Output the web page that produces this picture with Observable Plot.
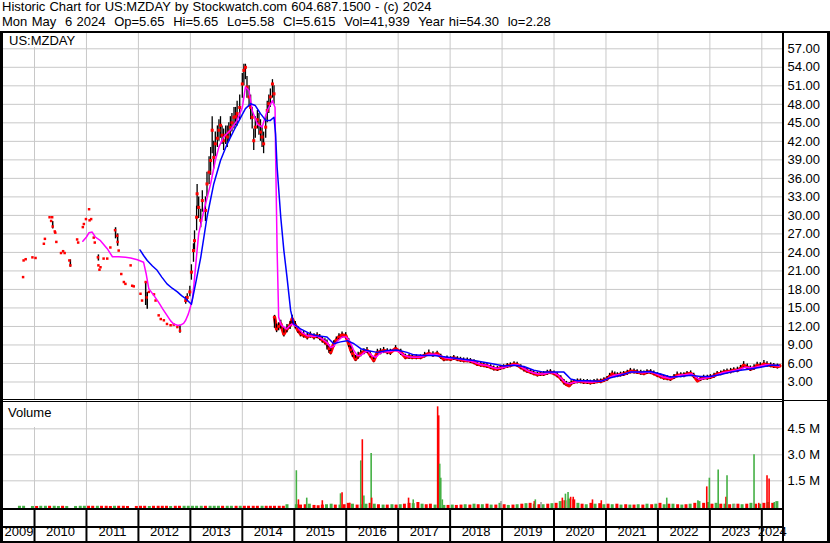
<!DOCTYPE html>
<html><head><meta charset="utf-8">
<script src="https://cdn.jsdelivr.net/npm/d3@7"></script>
<script src="https://cdn.jsdelivr.net/npm/@observablehq/plot@0.6"></script>
<style>
body{margin:0;background:#fff;}
#wrap{position:relative;width:830px;height:543px;overflow:hidden;font-family:Arial,"Liberation Sans",sans-serif;color:#000;background:#fff;}
.t{position:absolute;left:2px;font-size:13px;white-space:pre;line-height:15px;}
.blk{position:absolute;background:#000;}
.lbl{position:absolute;background:#fff;font-size:13px;line-height:15px;box-sizing:border-box;white-space:pre;}
svg{position:absolute;left:0;}
</style></head><body>
<div id="wrap">
<div class="t" style="top:-1px;word-spacing:0.5px">Historic Chart for US:MZDAY by Stockwatch.com 604.687.1500 - (c) 2024</div>
<div class="t" style="top:14px;word-spacing:0.75px">Mon May  6 2024  Op=5.65  Hi=5.65  Lo=5.58  Cl=5.615  Vol=41,939  Year hi=54.30  lo=2.28</div>
</div>
<script>
// ---------- data (decimal years) ----------
const yearBounds = [2010,2011,2012,2013,2014,2015,2016,2017,2018,2019,2020,2021,2022,2023,2024];
const yearNames = ["2009","2010","2011","2012","2013","2014","2015","2016","2017","2018","2019","2020","2021","2022","2023","2024"];
const priceTicks = [3,6,9,12,15,18,21,24,27,30,33,36,39,42,45,48,51,54,57];
const volTicks = [1.5,3.0,4.5];

// sparse early trades [t, close]
const earlyDots = [[2009.78,20.0],[2009.79,22.7],[2009.83,22.9],[2009.96,23.2],[2010.02,23.1],[2010.18,25.4],[2010.20,26.2],[2010.29,29.7],[2010.32,29.1],[2010.34,29.7],[2010.35,28.2],[2010.39,27.4],[2010.40,27.2],[2010.42,25.7],[2010.51,23.9],[2010.55,24.2],[2010.58,23.9],[2010.67,22.7],[2010.69,21.9],[2010.82,26.1],[2010.84,25.6],[2010.93,28.1],[2010.95,28.6],[2010.99,29.4],[2011.05,31.0],[2011.06,29.2],[2011.09,29.4],[2011.14,26.4],[2011.16,25.6],[2011.22,23.2],[2011.23,21.9],[2011.25,21.2],[2011.27,21.6],[2011.33,23.0],[2011.40,23.0],[2011.46,24.8],[2011.55,27.6],[2011.59,26.7],[2011.60,25.7],[2011.62,24.3],[2011.67,20.5],[2011.72,19.2],[2011.75,18.9],[2011.85,21.9],[2011.88,18.6],[2011.91,18.5],[2012.04,17.3],[2012.07,16.2],[2012.14,19.2],[2012.16,16.7],[2012.20,17.6],[2012.30,17.2],[2012.33,16.2],[2012.39,13.8],[2012.43,13.2],[2012.49,13.0],[2012.55,12.4],[2012.62,12.2],[2012.68,12.3],[2012.75,11.9],[2012.80,11.3]];
// early day ranges [t, lo, hi]
const earlyBars = [[2010.35,27.8,29.0],[2010.69,21.6,22.8],[2011.23,22.6,23.6],[2011.56,26.2,28.0],[2011.60,25.0,27.0],[2012.14,15.4,19.2],[2012.17,14.8,17.5],[2012.80,10.9,12.2]];
// 2012-2014 rally [t, close, lo, hi]
const rallyRows = [[2012.91,16.2,15.6,16.8],[2012.94,16.7,16.0,17.3],[2012.99,17.6,16.8,18.5],[2013.02,20.8,19.5,22.0],[2013.06,24.3,22.4,25.4],[2013.08,25.9,24.0,27.5],[2013.12,29.7,27.5,31.5],[2013.13,33.5,31.0,35.0],[2013.16,31.3,29.5,33.0],[2013.20,29.2,28.0,31.0],[2013.23,32.4,30.5,34.0],[2013.29,30.8,29.0,33.0],[2013.32,35.1,33.0,37.0],[2013.36,37.0,35.0,39.5],[2013.39,38.9,36.5,41.0],[2013.42,43.8,40.0,46.0],[2013.45,39.4,37.5,42.0],[2013.48,41.6,39.5,43.5],[2013.52,42.5,41.0,44.5],[2013.55,43.8,42.0,45.5],[2013.58,44.6,42.5,46.0],[2013.61,43.0,41.5,44.5],[2013.64,42.1,40.5,44.0],[2013.68,43.0,41.5,44.5],[2013.71,42.7,41.0,44.5],[2013.74,43.5,42.0,45.0],[2013.77,44.3,42.5,46.0],[2013.80,45.0,43.5,46.5],[2013.84,45.9,44.0,47.5],[2013.87,46.0,44.5,47.5],[2013.90,46.5,44.5,48.5],[2013.95,47.5,45.5,49.5],[2014.00,51.3,49.0,53.0],[2014.03,53.5,51.0,54.5],[2014.06,54.0,52.0,54.5],[2014.09,50.8,49.0,52.5],[2014.13,49.2,47.5,51.0],[2014.16,47.5,45.5,49.5],[2014.19,45.9,44.0,47.5],[2014.22,42.1,40.5,44.0],[2014.25,44.3,42.5,46.0],[2014.29,45.5,44.0,47.0],[2014.32,44.8,43.0,46.5],[2014.35,43.5,42.0,45.5],[2014.38,42.7,41.0,44.5],[2014.41,41.6,40.0,43.5],[2014.45,44.3,42.5,46.0],[2014.48,47.0,45.0,48.5],[2014.51,48.1,46.5,49.5],[2014.54,49.2,47.5,50.5],[2014.58,51.3,49.0,52.0],[2014.61,49.7,48.0,51.0]];
// 2014-2024 [t, close, lo, hi]
const postRows = [[2014.62,13.5,11.7,13.8],[2014.66,11.6,11.0,12.4],[2014.70,12.0,11.3,12.6],[2014.74,12.4,11.6,13.0],[2014.80,10.8,10.3,11.8],[2014.86,11.6,11.0,12.3],[2014.92,12.2,11.5,12.8],[2014.96,13.2,12.2,13.8],[2015.02,12.2,11.6,12.8],[2015.07,11.4,10.9,12.0],[2015.12,10.8,10.3,11.4],[2015.18,10.6,10.1,11.2],[2015.25,10.3,9.8,10.9],[2015.31,10.6,10.1,11.1],[2015.38,10.3,9.8,10.8],[2015.44,10.5,10.0,11.0],[2015.49,10.2,9.7,10.7],[2015.54,9.8,9.3,10.3],[2015.59,9.5,9.0,10.0],[2015.63,9.2,8.2,9.8],[2015.67,8.4,7.6,9.0],[2015.70,7.8,7.4,8.6],[2015.76,9.2,8.6,9.7],[2015.81,9.8,9.3,10.3],[2015.86,10.3,9.8,10.8],[2015.92,10.6,10.1,11.1],[2015.99,10.5,10.0,11.0],[2016.05,9.2,8.6,10.0],[2016.09,8.2,7.6,8.8],[2016.12,7.6,7.0,8.2],[2016.18,6.7,6.3,7.3],[2016.23,7.2,6.7,7.8],[2016.28,7.6,7.1,8.2],[2016.34,7.9,7.4,8.4],[2016.40,8.1,7.6,8.6],[2016.46,7.4,6.9,8.0],[2016.53,6.5,6.1,7.1],[2016.60,7.8,7.3,8.3],[2016.66,7.9,7.4,8.4],[2016.72,8.1,7.6,8.6],[2016.79,7.9,7.4,8.4],[2016.85,7.8,7.3,8.3],[2016.95,8.4,7.9,8.9],[2017.05,7.8,7.3,8.3],[2017.14,7.0,6.6,7.5],[2017.21,7.1,6.7,7.5],[2017.27,7.0,6.6,7.4],[2017.35,7.0,6.6,7.4],[2017.43,7.0,6.6,7.4],[2017.51,7.3,6.9,7.8],[2017.59,7.6,7.2,8.2],[2017.67,7.4,7.0,7.9],[2017.75,7.6,7.2,8.0],[2017.82,7.1,6.7,7.5],[2017.88,6.7,6.3,7.1],[2017.94,6.8,6.4,7.2],[2018.01,6.7,6.3,7.1],[2018.07,6.9,6.5,7.3],[2018.14,6.7,6.3,7.1],[2018.20,6.6,6.2,7.0],[2018.26,6.5,6.1,6.9],[2018.33,6.5,6.1,6.9],[2018.39,6.4,6.0,6.8],[2018.46,6.2,5.8,6.6],[2018.52,5.9,5.5,6.3],[2018.59,5.8,5.4,6.2],[2018.65,5.7,5.3,6.1],[2018.71,5.6,5.2,6.0],[2018.78,5.4,5.0,5.8],[2018.84,5.2,4.8,5.6],[2018.91,5.1,4.7,5.5],[2018.97,5.3,4.9,5.7],[2019.03,5.4,5.0,5.8],[2019.10,5.6,5.2,6.0],[2019.16,5.7,5.3,6.1],[2019.23,5.9,5.5,6.3],[2019.29,5.8,5.4,6.2],[2019.36,5.4,5.0,5.8],[2019.42,5.1,4.6,5.5],[2019.48,4.8,4.4,5.2],[2019.55,4.6,4.2,5.0],[2019.61,4.4,4.0,4.8],[2019.68,4.2,3.8,4.6],[2019.74,4.3,3.9,4.7],[2019.80,4.3,3.9,4.7],[2019.87,4.5,4.1,4.9],[2019.93,4.6,4.2,5.0],[2020.00,4.4,4.0,4.8],[2020.06,4.1,3.7,4.5],[2020.13,3.6,3.1,4.0],[2020.19,3.0,2.5,3.4],[2020.24,2.6,2.3,3.1],[2020.29,2.4,2.28,2.9],[2020.33,2.8,2.4,3.2],[2020.38,3.0,2.6,3.4],[2020.45,3.1,2.7,3.5],[2020.51,3.1,2.7,3.5],[2020.57,3.0,2.6,3.4],[2020.64,3.0,2.6,3.4],[2020.70,2.9,2.5,3.3],[2020.77,3.0,2.6,3.4],[2020.83,3.1,2.7,3.5],[2020.90,3.1,2.7,3.5],[2020.96,3.3,2.9,3.7],[2021.02,3.5,3.1,3.9],[2021.07,3.9,3.5,4.4],[2021.12,4.3,3.9,4.8],[2021.17,4.1,3.7,4.6],[2021.22,4.1,3.7,4.5],[2021.28,4.2,3.8,4.6],[2021.34,4.3,3.9,4.7],[2021.41,4.5,4.1,4.9],[2021.47,4.75,4.3,5.2],[2021.54,4.7,4.3,5.1],[2021.60,4.6,4.2,5.0],[2021.67,4.5,4.1,4.9],[2021.73,4.4,4.0,4.8],[2021.79,4.6,4.2,5.0],[2021.86,4.6,4.2,5.0],[2021.92,4.4,4.0,4.8],[2021.99,4.1,3.7,4.5],[2022.05,3.9,3.5,4.3],[2022.11,3.7,3.3,4.1],[2022.18,3.6,3.2,4.0],[2022.24,3.5,3.1,3.9],[2022.31,3.8,3.4,4.2],[2022.37,4.1,3.7,4.6],[2022.44,4.1,3.7,4.5],[2022.50,4.1,3.7,4.5],[2022.56,4.3,3.9,4.7],[2022.63,4.4,4.0,4.8],[2022.69,4.0,3.6,4.4],[2022.76,3.2,2.9,3.7],[2022.82,3.5,3.1,3.9],[2022.88,3.7,3.3,4.1],[2022.95,3.7,3.3,4.1],[2023.01,3.8,3.4,4.2],[2023.08,4.0,3.6,4.4],[2023.14,4.3,3.9,4.7],[2023.21,4.4,4.0,4.8],[2023.27,4.6,4.2,5.0],[2023.33,4.7,4.3,5.1],[2023.40,4.75,4.3,5.2],[2023.46,4.9,4.5,5.3],[2023.53,4.9,4.5,5.4],[2023.59,5.2,4.8,5.7],[2023.65,5.7,5.2,6.3],[2023.72,5.4,5.0,5.9],[2023.78,5.1,4.7,5.6],[2023.85,5.3,4.9,5.8],[2023.91,5.7,5.3,6.2],[2023.97,5.6,5.2,6.1],[2024.04,5.9,5.4,6.5],[2024.10,5.8,5.4,6.3],[2024.17,5.7,5.3,6.1],[2024.23,5.6,5.2,6.0],[2024.30,5.5,5.1,5.9],[2024.345,5.615,5.58,5.65]];
// moving averages [t, value]
const maFast = [[2010.93,25.8],[2011.00,26.5],[2011.05,27.2],[2011.11,27.3],[2011.17,26.5],[2011.27,25.9],[2011.40,24.6],[2011.50,23.3],[2011.62,23.3],[2011.75,23.2],[2011.85,23.1],[2011.98,22.8],[2012.10,22.4],[2012.15,20.5],[2012.20,18.1],[2012.30,17.0],[2012.39,15.9],[2012.47,14.8],[2012.55,13.8],[2012.62,12.9],[2012.68,12.4],[2012.75,12.2],[2012.81,12.2],[2012.87,12.5],[2012.91,13.0],[2012.96,14.0],[2013.00,15.1],[2013.04,16.5],[2013.07,18.9],[2013.12,23.5],[2013.16,27.0],[2013.26,30.8],[2013.39,35.1],[2013.48,38.9],[2013.55,41.1],[2013.64,42.7],[2013.77,43.8],[2013.90,45.4],[2014.00,47.5],[2014.06,50.8],[2014.13,50.2],[2014.19,47.0],[2014.29,44.8],[2014.38,44.3],[2014.48,47.0],[2014.58,48.6],[2014.63,47.5],[2014.64,40.5],[2014.67,24.3],[2014.70,13.5],[2014.75,12.2],[2014.85,11.6],[2014.95,12.4],[2015.05,12.0],[2015.15,11.0],[2015.25,10.5],[2015.35,10.4],[2015.45,10.4],[2015.55,9.9],[2015.63,9.4],[2015.70,8.6],[2015.76,8.8],[2015.83,9.6],[2015.92,10.3],[2016.00,10.3],[2016.07,9.6],[2016.14,8.2],[2016.21,7.3],[2016.28,7.3],[2016.35,7.8],[2016.42,8.0],[2016.50,7.2],[2016.57,7.0],[2016.64,7.6],[2016.72,7.9],[2016.82,7.9],[2016.92,8.1],[2017.00,8.0],[2017.10,7.4],[2017.20,7.1],[2017.30,7.0],[2017.40,7.0],[2017.50,7.2],[2017.60,7.5],[2017.70,7.5],[2017.80,7.3],[2017.90,6.9],[2018.00,6.8],[2018.10,6.8],[2018.20,6.7],[2018.30,6.5],[2018.40,6.4],[2018.50,6.1],[2018.60,5.8],[2018.70,5.7],[2018.80,5.4],[2018.90,5.2],[2019.00,5.3],[2019.10,5.5],[2019.20,5.8],[2019.30,5.8],[2019.40,5.3],[2019.50,4.8],[2019.60,4.5],[2019.70,4.3],[2019.80,4.3],[2019.90,4.5],[2020.00,4.5],[2020.08,4.1],[2020.15,3.5],[2020.22,2.9],[2020.30,2.7],[2020.38,2.9],[2020.50,3.1],[2020.62,3.0],[2020.75,3.0],[2020.88,3.1],[2020.98,3.3],[2021.08,3.8],[2021.16,4.1],[2021.26,4.2],[2021.36,4.3],[2021.47,4.6],[2021.58,4.6],[2021.70,4.5],[2021.82,4.6],[2021.92,4.5],[2022.00,4.2],[2022.10,3.8],[2022.22,3.6],[2022.32,3.8],[2022.42,4.1],[2022.55,4.2],[2022.65,4.3],[2022.73,3.8],[2022.80,3.4],[2022.90,3.6],[2023.00,3.8],[2023.12,4.1],[2023.25,4.5],[2023.38,4.7],[2023.50,4.9],[2023.60,5.1],[2023.68,5.4],[2023.78,5.3],[2023.88,5.4],[2023.98,5.6],[2024.08,5.8],[2024.20,5.7],[2024.34,5.6]];
const maSlow = [[2012.03,24.4],[2012.10,23.5],[2012.17,22.7],[2012.27,21.8],[2012.36,21.1],[2012.45,20.0],[2012.55,18.9],[2012.65,18.2],[2012.75,17.6],[2012.83,17.0],[2012.91,16.5],[2012.97,16.0],[2013.02,15.6],[2013.10,18.9],[2013.20,23.2],[2013.32,29.7],[2013.45,35.1],[2013.58,38.9],[2013.71,41.6],[2013.84,43.8],[2013.97,45.9],[2014.06,47.3],[2014.16,48.1],[2014.25,47.8],[2014.35,46.5],[2014.45,45.4],[2014.54,45.4],[2014.61,45.9],[2014.64,43.2],[2014.67,37.8],[2014.74,29.7],[2014.80,24.3],[2014.86,20.0],[2014.93,14.6],[2014.96,13.5],[2014.99,12.4],[2015.12,11.6],[2015.31,10.8],[2015.44,10.5],[2015.63,10.3],[2015.76,9.2],[2015.89,9.5],[2016.02,9.7],[2016.15,9.2],[2016.28,8.4],[2016.40,8.1],[2016.60,7.8],[2016.79,8.1],[2016.98,8.2],[2017.17,7.8],[2017.30,7.4],[2017.49,7.3],[2017.69,7.3],[2017.88,7.1],[2018.07,6.9],[2018.26,6.7],[2018.46,6.5],[2018.65,6.2],[2018.84,5.9],[2019.03,5.6],[2019.23,5.7],[2019.42,5.5],[2019.61,4.9],[2019.80,4.6],[2020.00,4.6],[2020.19,4.6],[2020.32,3.5],[2020.45,3.2],[2020.64,3.2],[2020.90,3.1],[2021.09,3.7],[2021.28,4.1],[2021.47,4.6],[2021.67,4.6],[2021.86,4.7],[2022.05,4.3],[2022.24,3.8],[2022.43,3.9],[2022.63,4.1],[2022.82,3.9],[2023.01,3.9],[2023.21,4.2],[2023.40,4.6],[2023.59,4.9],[2023.78,5.1],[2023.98,5.4],[2024.17,5.7],[2024.33,5.7]];
// volume, millions [t, vol, colour code]
const volEarly = [[2009.71,.03,"g"],[2009.79,.03,"g"],[2009.96,.02,"g"],[2010.04,.02,"r"],[2010.12,.03,"g"],[2010.21,.03,"g"],[2010.29,.03,"r"],[2010.38,.03,"g"],[2010.46,.02,"g"],[2010.54,.03,"r"],[2010.62,.02,"g"],[2010.79,.02,"g"],[2010.88,.03,"g"],[2010.96,.03,"g"],[2011.04,.03,"r"],[2011.12,.03,"r"],[2011.21,.03,"g"],[2011.29,.03,"r"],[2011.38,.03,"r"],[2011.46,.02,"r"],[2011.54,.03,"g"],[2011.62,.03,"r"],[2011.71,.03,"r"],[2011.79,.02,"r"],[2011.96,.02,"r"],[2012.04,.03,"r"],[2012.12,.03,"r"],[2012.21,.02,"g"],[2012.29,.03,"r"],[2012.38,.03,"r"],[2012.46,.03,"r"],[2012.54,.03,"r"],[2012.62,.02,"g"],[2012.71,.03,"r"],[2012.79,.03,"r"],[2012.88,.03,"g"],[2012.96,.03,"g"],[2013.04,.03,"g"],[2013.12,.03,"g"],[2013.21,.03,"g"],[2013.29,.03,"r"],[2013.38,.03,"g"],[2013.46,.03,"g"],[2013.54,.03,"g"],[2013.62,.03,"r"],[2013.71,.03,"g"],[2013.79,.03,"g"],[2013.88,.03,"r"],[2013.96,.03,"g"],[2014.04,.03,"r"],[2014.12,.03,"r"],[2014.21,.03,"r"],[2014.29,.03,"r"],[2014.38,.03,"g"],[2014.46,.03,"r"],[2014.54,.03,"r"],[2014.62,.03,"r"],[2014.71,.03,"r"],[2014.79,.03,"r"],[2014.86,.12,"g"]];
const volRecent = [[2015.04,.12,"g"],[2015.12,.10,"r"],[2015.21,.12,"r"],[2015.29,.15,"g"],[2015.38,.08,"r"],[2015.46,.06,"r"],[2015.54,.10,"r"],[2015.62,.12,"g"],[2015.71,.15,"g"],[2015.79,.10,"r"],[2015.88,.10,"g"],[2015.96,.12,"r"],[2016.04,.20,"r"],[2016.12,.15,"g"],[2016.21,.10,"r"],[2016.29,.12,"g"],[2016.38,.15,"g"],[2016.46,.20,"r"],[2016.54,.15,"g"],[2016.62,.12,"r"],[2016.71,.10,"g"],[2016.79,.10,"r"],[2016.88,.12,"g"],[2016.96,.10,"r"],[2017.04,.12,"g"],[2017.12,.15,"r"],[2017.21,.20,"r"],[2017.29,.18,"g"],[2017.38,.25,"r"],[2017.46,.15,"g"],[2017.54,.12,"r"],[2017.62,.15,"r"],[2017.71,.10,"g"],[2017.79,.12,"r"],[2017.88,.08,"g"],[2017.96,.08,"r"],[2018.04,.10,"g"],[2018.12,.08,"r"],[2018.21,.10,"r"],[2018.29,.12,"g"],[2018.38,.10,"r"],[2018.46,.15,"g"],[2018.54,.12,"r"],[2018.62,.12,"g"],[2018.71,.15,"r"],[2018.79,.10,"g"],[2018.88,.10,"r"],[2018.96,.20,"g"],[2019.04,.12,"r"],[2019.12,.08,"g"],[2019.21,.10,"r"],[2019.29,.12,"g"],[2019.38,.15,"r"],[2019.46,.18,"g"],[2019.54,.20,"r"],[2019.62,.15,"g"],[2019.71,.12,"r"],[2019.79,.12,"g"],[2019.88,.15,"r"],[2019.96,.18,"g"],[2020.04,.20,"r"],[2020.12,.30,"g"],[2020.21,.35,"r"],[2020.29,.45,"g"],[2020.38,.40,"r"],[2020.46,.20,"g"],[2020.54,.15,"r"],[2020.62,.12,"g"],[2020.71,.20,"r"],[2020.79,.15,"g"],[2020.88,.18,"r"],[2020.96,.12,"g"],[2021.04,.15,"r"],[2021.12,.12,"g"],[2021.21,.15,"r"],[2021.29,.10,"g"],[2021.38,.12,"r"],[2021.46,.10,"g"],[2021.54,.10,"r"],[2021.62,.12,"g"],[2021.71,.10,"r"],[2021.79,.15,"g"],[2021.88,.12,"r"],[2021.96,.15,"g"],[2022.04,.20,"r"],[2022.12,.12,"g"],[2022.21,.15,"r"],[2022.29,.15,"g"],[2022.38,.12,"r"],[2022.46,.10,"g"],[2022.54,.12,"r"],[2022.62,.15,"g"],[2022.71,.20,"r"],[2022.79,.30,"g"],[2022.88,.20,"r"],[2022.96,.25,"g"],[2023.04,.15,"r"],[2023.12,.20,"g"],[2023.21,.15,"r"],[2023.29,.15,"g"],[2023.38,.12,"r"],[2023.46,.15,"g"],[2023.54,.15,"r"],[2023.62,.12,"g"],[2023.71,.15,"r"],[2023.79,.20,"g"],[2023.88,.15,"r"],[2023.96,.15,"g"],[2024.04,.20,"r"],[2024.12,.25,"g"],[2024.21,.20,"r"],[2024.29,.30,"g"]];
const volSpikes = [[2015.04,2.08,"g"],[2015.08,0.40,"r"],[2015.24,0.50,"g"],[2015.54,0.35,"r"],[2015.89,0.75,"g"],[2015.92,0.81,"r"],[2016.07,0.20,"r"],[2016.28,2.65,"g"],[2016.31,3.87,"r"],[2016.34,0.63,"g"],[2016.48,3.08,"g"],[2016.49,0.50,"r"],[2017.20,0.50,"r"],[2017.29,0.40,"g"],[2017.76,5.77,"r"],[2017.78,5.25,"r"],[2017.80,2.46,"g"],[2017.82,1.65,"g"],[2017.85,0.40,"g"],[2018.98,0.30,"k"],[2019.62,0.30,"r"],[2019.64,0.40,"g"],[2019.75,0.25,"k"],[2020.16,0.50,"r"],[2020.22,0.73,"g"],[2020.27,0.83,"g"],[2020.32,0.55,"r"],[2020.37,0.55,"r"],[2020.74,0.40,"r"],[2020.91,0.35,"r"],[2022.17,0.50,"g"],[2022.77,0.35,"g"],[2022.94,1.15,"r"],[2022.99,1.65,"g"],[2023.16,2.13,"g"],[2023.31,0.55,"r"],[2023.33,1.79,"g"],[2023.47,0.12,"k"],[2023.85,3.00,"g"],[2023.94,0.20,"r"],[2024.10,1.79,"r"],[2024.14,1.60,"r"],[2024.24,0.25,"g"]];

// ---------- layout ----------
const X0 = 2009.403, X1 = 2024.398;
const VOL_FLOOR = -0.098;
const font = "Arial, 'Liberation Sans', sans-serif";
const volColor = {r: "#ff0000", g: "#44b044", k: "#a0a0a0"};
const grid = "#c8c8c8";
const base = {width: 830, marginLeft: 3, marginRight: 48,
  style: {background: "none", fontFamily: font, fontSize: "13px", color: "#000", overflow: "visible"}};
const xOpt = {type: "linear", domain: [X0, X1], axis: null};

const priceChart = Plot.plot({
  ...base, height: 367, marginTop: 0, marginBottom: 0,
  x: xOpt, y: {domain: [0, 59.48], axis: null},
  marks: [
    Plot.ruleY(priceTicks, {stroke: grid}),
    Plot.ruleX(yearBounds, {stroke: grid}),
    Plot.ruleX(earlyBars, {x: d => d[0], y1: d => d[1], y2: d => d[2], stroke: "#000", strokeWidth: 1.5}),
    Plot.ruleX(rallyRows, {x: d => d[0], y1: d => d[2], y2: d => d[3], stroke: "#000", strokeWidth: 1.3}),
    Plot.line(postRows, {x: d => d[0], y: d => d[1], stroke: "#ff0000", strokeWidth: 3.5}),
    Plot.ruleX(postRows, {x: d => d[0], y1: d => d[2], y2: d => d[3], stroke: "#000", strokeWidth: 1.4}),
    Plot.dot(earlyDots, {x: d => d[0], y: d => d[1], symbol: "square", r: 1.4, fill: "#ff0000"}),
    Plot.dot(rallyRows, {x: d => d[0], y: d => d[1], symbol: "square", r: 1.7, fill: "#ff0000"}),
    Plot.dot(postRows, {x: d => d[0], y: d => d[1], symbol: "square", r: 1.5, fill: "#ff0000"}),
    Plot.line(maFast, {x: d => d[0], y: d => d[1], stroke: "#ff00ff", strokeWidth: 1.5}),
    Plot.line(maSlow, {x: d => d[0], y: d => d[1], stroke: "#0000ff", strokeWidth: 1.5}),
    Plot.text(priceTicks, {y: d => d, text: d => d.toFixed(2), frameAnchor: "right", dx: 5, textAnchor: "start", fill: "#000"})
  ]
});

const volChart = Plot.plot({
  ...base, height: 106, marginTop: 0, marginBottom: 0,
  x: xOpt, y: {domain: [VOL_FLOOR, 6.02], axis: null},
  marks: [
    Plot.ruleY(volTicks, {stroke: grid}),
    Plot.ruleX(yearBounds, {stroke: grid}),
    Plot.ruleX(volEarly, {x: d => d[0], y1: VOL_FLOOR, y2: d => d[1], stroke: d => volColor[d[2]], strokeWidth: 3}),
    Plot.ruleX(volRecent, {x: d => d[0], y1: VOL_FLOOR, y2: d => d[1], stroke: d => volColor[d[2]], strokeWidth: 3}),
    Plot.ruleX(volSpikes, {x: d => d[0], y1: VOL_FLOOR, y2: d => d[1], stroke: d => volColor[d[2]], strokeWidth: 1.6}),
    Plot.text(volTicks, {y: d => d, text: d => d.toFixed(1) + " M", frameAnchor: "right", dx: 5, textAnchor: "start", fill: "#000"})
  ]
});

const yearLabels = yearNames.map(name => {
  const y = +name, lo = Math.max(y, X0), hi = Math.min(y + 1, X1);
  return {name, mid: (lo + hi) / 2};
});
const axisChart = Plot.plot({
  ...base, height: 35, marginTop: 2, marginBottom: 2,
  x: xOpt, y: {axis: null},
  marks: [
    Plot.ruleX(yearBounds, {stroke: "#000", strokeWidth: 2}),
    Plot.text(yearLabels, {x: "mid", text: "name", frameAnchor: "bottom", dy: -6, fill: "#000"})
  ]
});

const wrap = document.getElementById("wrap");
priceChart.style.top = "33px";
volChart.style.top = "402px";
axisChart.style.top = "508px";
wrap.appendChild(priceChart);
wrap.appendChild(volChart);
wrap.appendChild(axisChart);

function box(cls, l, t, w, h, txt, extra) {
  const d = document.createElement("div");
  d.className = cls;
  d.style.left = l + "px"; d.style.top = t + "px"; d.style.width = w + "px"; d.style.height = h + "px";
  if (txt) d.textContent = txt;
  if (extra) Object.assign(d.style, extra);
  wrap.appendChild(d);
}
box("lbl", 3, 33, 82, 14, "US:MZDAY", {paddingLeft: "6px"});
box("lbl", 3, 402, 82, 25, "Volume", {paddingLeft: "5px", paddingTop: "3px"});
// frame lines
box("blk", 0, 31, 3, 512);
box("blk", 0, 31, 830, 2);
box("blk", 782, 31, 2, 512);
box("blk", 827, 31, 3, 512);
box("blk", 0, 399, 784, 1);
box("blk", 0, 401, 784, 1);
box("blk", 784, 400, 45, 1);
box("blk", 0, 508, 784, 2);
box("blk", 0, 526, 784, 2);
box("blk", 0, 541, 830, 2);
</script>
</body></html>
